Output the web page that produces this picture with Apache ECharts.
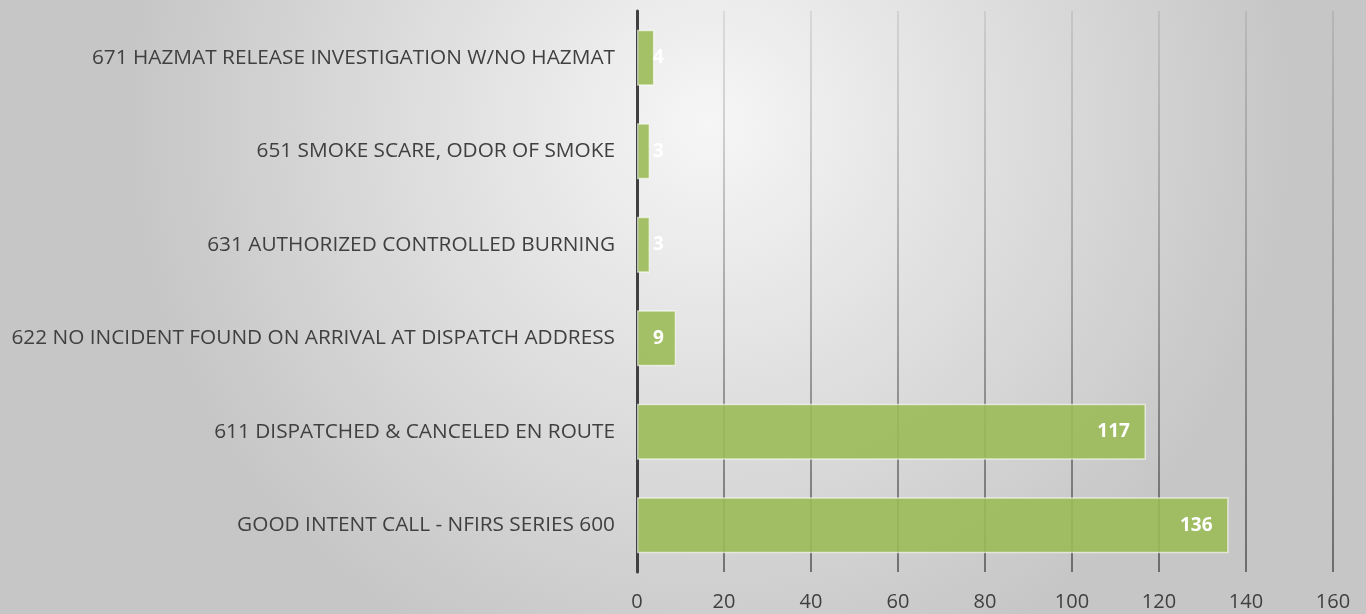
<!DOCTYPE html>
<html>
<head>
<meta charset="utf-8">
<script src="https://cdn.jsdelivr.net/npm/echarts@6/dist/echarts.min.js"></script>
<style>
  html, body { margin: 0; padding: 0; }
  #chart { width: 1366px; height: 614px; }
</style>
</head>
<body>
<div id="chart"></div>
<script>
// categories listed bottom to top (ECharts category axis order)
const categories = [
  'GOOD INTENT CALL - NFIRS SERIES 600',
  '611 DISPATCHED & CANCELED EN ROUTE',
  '622 NO INCIDENT FOUND ON ARRIVAL AT DISPATCH ADDRESS',
  '631 AUTHORIZED CONTROLLED BURNING',
  '651 SMOKE SCARE, ODOR OF SMOKE',
  '671 HAZMAT RELEASE INVESTIGATION W/NO HAZMAT'
];
const counts = [136, 117, 9, 3, 3, 4];
const xTicks = [0, 20, 40, 60, 80, 100, 120, 140, 160];

const FONT = 'Open Sans';

// short bars get their label pushed out from the axis side
const barData = counts.map(v => ({
  value: v,
  label: v < 20 ? { position: 'insideLeft', distance: 16 } : { position: 'insideRight', distance: 16 }
}));

const chart = echarts.init(document.getElementById('chart'));
chart.setOption({
  animation: false,
  backgroundColor: {
    type: 'radial', x: 0.52, y: 0.2, r: 0.95,
    colorStops: [
      { offset: 0, color: '#f6f6f6' },
      { offset: 1, color: '#c6c6c6' }
    ]
  },
  grid: { left: 637, right: 33, top: 11, bottom: 42 },
  xAxis: {
    type: 'value',
    min: xTicks[0],
    max: xTicks[xTicks.length - 1],
    interval: 20,
    axisLine: { show: false },
    axisTick: { show: false },
    splitLine: {
      lineStyle: {
        width: 2,
        color: {
          type: 'linear', global: true, x: 0, y: 11, x2: 0, y2: 572,
          colorStops: [
            { offset: 0, color: 'rgba(0,0,0,0.08)' },
            { offset: 1, color: 'rgba(0,0,0,0.45)' }
          ]
        }
      }
    },
    axisLabel: { color: '#404040', fontFamily: FONT, fontSize: 20, margin: 20 }
  },
  yAxis: {
    type: 'category',
    data: categories,
    axisLine: { show: true, lineStyle: { color: '#404040', width: 3 } },
    axisTick: { show: false },
    axisLabel: { color: '#404040', fontFamily: FONT, fontSize: 20.8, margin: 22 }
  },
  series: [{
    type: 'bar',
    data: barData,
    barCategoryGap: '40%',
    itemStyle: {
      color: 'rgba(155,187,89,0.9)',
      borderColor: 'rgba(255,255,255,0.6)',
      borderWidth: 1.5
    },
    label: {
      show: true,
      color: '#ffffff',
      fontFamily: FONT,
      fontWeight: 'bold',
      fontSize: 19
    }
  }]
});
</script>
</body>
</html>
